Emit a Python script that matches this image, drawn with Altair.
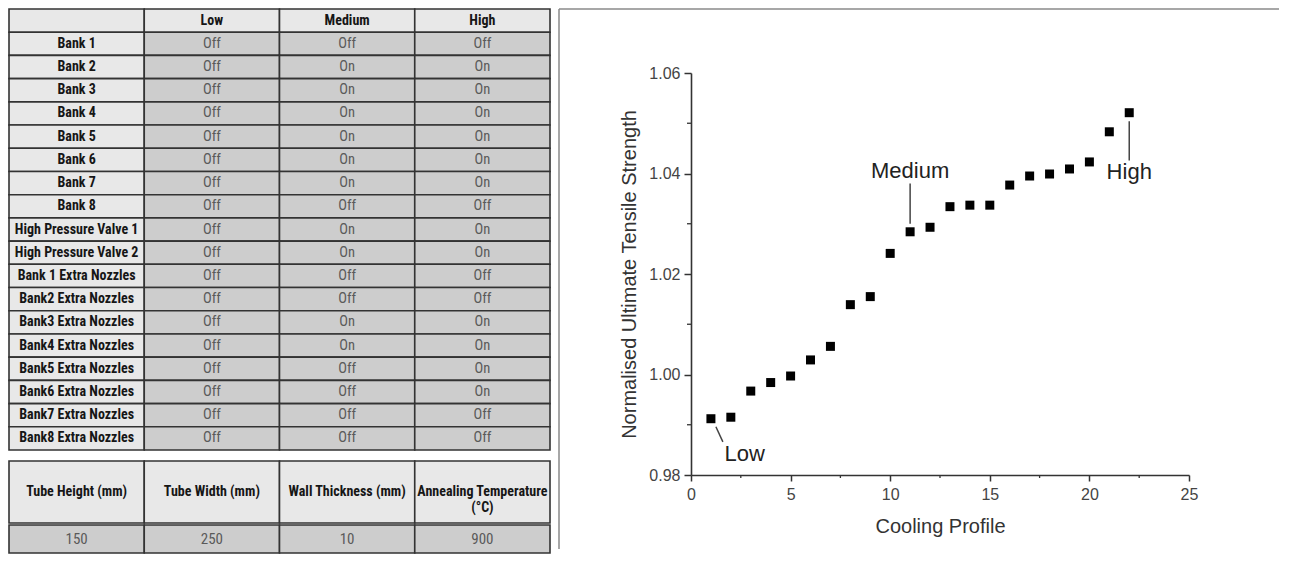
import altair as alt
import pandas as pd

# ---------------- data ----------------
row_labels = ["Bank 1", "Bank 2", "Bank 3", "Bank 4", "Bank 5", "Bank 6", "Bank 7", "Bank 8",
              "High Pressure Valve 1", "High Pressure Valve 2",
              "Bank 1 Extra Nozzles", "Bank2 Extra Nozzles", "Bank3 Extra Nozzles",
              "Bank4 Extra Nozzles", "Bank5 Extra Nozzles", "Bank6 Extra Nozzles",
              "Bank7 Extra Nozzles", "Bank8 Extra Nozzles"]
levels = ["Low", "Medium", "High"]
low_state = ["Off"] * 18
medium_state = ["Off", "On", "On", "On", "On", "On", "On", "Off", "On", "On",
                "Off", "Off", "On", "On", "Off", "Off", "Off", "Off"]
high_state = ["Off", "On", "On", "On", "On", "On", "On", "Off", "On", "On",
              "Off", "Off", "On", "On", "On", "On", "Off", "Off"]

param_names = ["Tube Height (mm)", "Tube Width (mm)", "Wall Thickness (mm)", "Annealing Temperature\n(°C)"]
param_values = ["150", "250", "10", "900"]

profile = list(range(1, 23))
strength = [0.9912, 0.9915, 0.9967, 0.9984, 0.9997, 1.0029, 1.0056, 1.0139, 1.0155, 1.0241,
            1.0284, 1.0293, 1.0334, 1.0337, 1.0337, 1.0377, 1.0395, 1.0399, 1.0409, 1.0423,
            1.0483, 1.0521]

ann_labels = ["Low", "Medium", "High"]
ann_x = [2.7, 11.0, 22.0]
ann_y = [0.9841, 1.0404, 1.0402]
lead_x = [1.25, 11.0, 22.0]
lead_x2 = [1.6, 11.0, 22.0]
lead_y = [0.9896, 1.0380, 1.0504]
lead_y2 = [0.9866, 1.0300, 1.0426]

x_ticks = [0, 5, 10, 15, 20, 25]
y_ticks = [0.98, 1.00, 1.02, 1.04, 1.06]
x_minor = [2.5, 7.5, 12.5, 17.5, 22.5]
y_minor = [0.99, 1.01, 1.03, 1.05]

# ---------------- styles ----------------
NARROW = "Liberation Sans Narrow, Arial Narrow, Roboto Condensed, DejaVu Sans Condensed, sans-serif"
SANS = "Liberation Sans, Arial, Helvetica, sans-serif"
LIGHT = "#e8e8e8"
DARK = "#cdcdcd"
LINE = "#333333"

# ---------------- top table ----------------
col_keys = ["c0", "c1", "c2", "c3"]
row_keys = ["r%02d" % i for i in range(len(row_labels) + 1)]
recs = [{"col": "c0", "row": row_keys[0], "text": "", "kind": "head"}]
for j, lv in enumerate(levels):
    recs.append({"col": col_keys[j + 1], "row": row_keys[0], "text": lv, "kind": "head"})
states = [low_state, medium_state, high_state]
for i, lab in enumerate(row_labels):
    recs.append({"col": "c0", "row": row_keys[i + 1], "text": lab, "kind": "head"})
    for j in range(3):
        recs.append({"col": col_keys[j + 1], "row": row_keys[i + 1], "text": states[j][i], "kind": "cell"})
df_top = pd.DataFrame(recs)

fill_scale = alt.Scale(domain=["head", "cell"], range=[LIGHT, DARK])


def table(df, rows, width, height, head_size=14, cell_size=14.5):
    base = alt.Chart(df).encode(
        x=alt.X("col:N", sort=col_keys, axis=None, scale=alt.Scale(paddingInner=0, paddingOuter=0)),
        y=alt.Y("row:N", sort=rows, axis=None, scale=alt.Scale(paddingInner=0, paddingOuter=0)),
    )
    rect = base.mark_rect(stroke=LINE, strokeWidth=1.6).encode(
        fill=alt.Fill("kind:N", scale=fill_scale, legend=None)
    )
    head_txt = base.transform_filter(alt.datum.kind == "head").mark_text(
        font=NARROW, fontSize=head_size, fontWeight="bold", color="#161616", lineBreak="\n"
    ).encode(text="text:N")
    cell_txt = base.transform_filter(alt.datum.kind == "cell").mark_text(
        font=NARROW, fontSize=cell_size, color="#5a5a5a"
    ).encode(text="text:N")
    return alt.layer(rect, head_txt, cell_txt).properties(width=width, height=height)


top_table = table(df_top, row_keys, 541, 441)

df_ph = pd.DataFrame({"col": col_keys, "row": ["p0"] * 4, "text": param_names, "kind": ["head"] * 4})
df_pv = pd.DataFrame({"col": col_keys, "row": ["p1"] * 4, "text": param_values, "kind": ["cell"] * 4})
param_head = table(df_ph, ["p0"], 541, 62)
param_val = table(df_pv, ["p1"], 541, 28, cell_size=15)

left = alt.vconcat(top_table, alt.vconcat(param_head, param_val, spacing=0), spacing=9)

# ---------------- scatter ----------------
W, H = 498, 402
df_sc = pd.DataFrame({"profile": profile, "strength": strength})
xs = alt.Scale(domain=[0, 25], nice=False, zero=False)
ys = alt.Scale(domain=[0.98, 1.06], nice=False, zero=False)

points = alt.Chart(df_sc).mark_square(size=81, color="black", opacity=1).encode(
    x=alt.X("profile:Q", scale=xs, title="Cooling Profile",
            axis=alt.Axis(values=x_ticks, tickSize=6, labelPadding=5, titlePadding=14,
                          labelFlush=False, format="d")),
    y=alt.Y("strength:Q", scale=ys, title="Normalised Ultimate Tensile Strength",
            axis=alt.Axis(values=y_ticks, tickSize=7, labelPadding=4, titlePadding=9,
                          format=".2f")),
)

minor_xl = alt.Chart(pd.DataFrame({"profile": x_minor})).mark_rule(color=LINE, strokeWidth=1.3).encode(
    x=alt.X("profile:Q", scale=xs), y=alt.value(H), y2=alt.value(H + 3)
)
minor_yl = alt.Chart(pd.DataFrame({"strength": y_minor})).mark_rule(color=LINE, strokeWidth=1.3).encode(
    y=alt.Y("strength:Q", scale=ys), x=alt.value(-4), x2=alt.value(0)
)

df_ann = pd.DataFrame({"label": ann_labels, "profile": ann_x, "strength": ann_y,
                       "lx": lead_x, "lx2": lead_x2, "ly": lead_y, "ly2": lead_y2})
leaders = alt.Chart(df_ann).mark_rule(color="#444444", strokeWidth=1.5).encode(
    x=alt.X("lx:Q", scale=xs, title="Cooling Profile"), x2="lx2:Q",
    y=alt.Y("ly:Q", scale=ys, title="Normalised Ultimate Tensile Strength"), y2="ly2:Q",
)
ann_text = alt.Chart(df_ann).mark_text(font=SANS, fontSize=22, color="#222222").encode(
    x=alt.X("profile:Q", scale=xs), y=alt.Y("strength:Q", scale=ys), text="label:N"
)

scatter = alt.layer(points, minor_xl, minor_yl, leaders, ann_text).properties(width=W, height=H)

# panel frame (top and left edge of the right-hand figure), drawn in a spacer view above the plot
dummy = pd.DataFrame({"d": [0]})
frame_left = alt.Chart(dummy).mark_rule(color="#8a8a8a", strokeWidth=1.5).encode(
    x=alt.value(-132), y=alt.value(0), y2=alt.value(540)
)
frame_top = alt.Chart(dummy).mark_rule(color="#8a8a8a", strokeWidth=1.5).encode(
    x=alt.value(-132), x2=alt.value(588), y=alt.value(0)
)
spacer = alt.layer(frame_left, frame_top).properties(width=W, height=64)

right = alt.vconcat(spacer, scatter, spacing=0, bounds="flush")

chart = alt.hconcat(left, right, spacing=7).properties(
    padding=0, background="white"
).configure_view(
    stroke=None
).configure_axis(
    domainColor=LINE, domainWidth=1.6, tickColor=LINE, tickWidth=1.5, grid=False,
    labelFont=SANS, labelFontSize=16, labelColor="#444444",
    titleFont=SANS, titleFontSize=20, titleFontWeight="normal", titleColor="#333333",
)

chart.save("out.html", embed_options={"renderer": "svg", "actions": False})
